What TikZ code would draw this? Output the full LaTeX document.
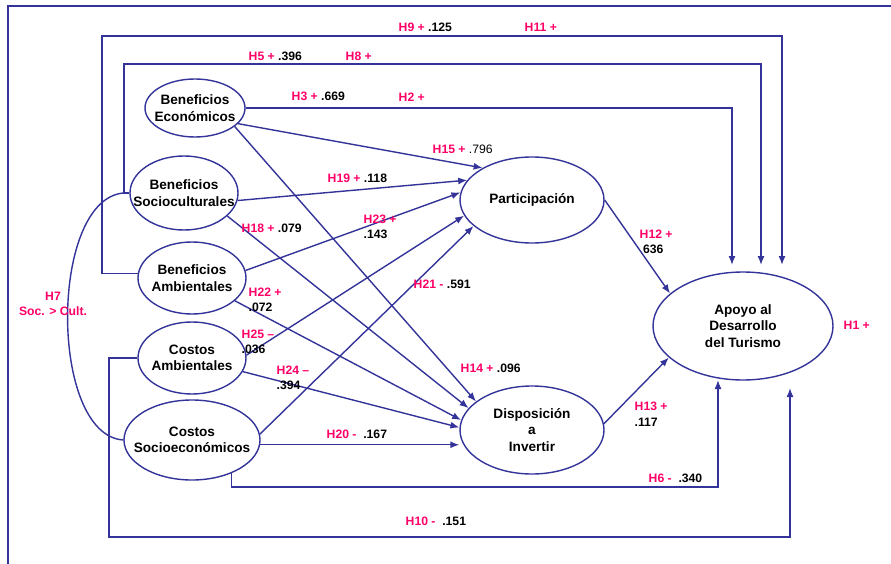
\documentclass[tikz,border=0pt]{standalone}
\usepackage{fontspec}
\setmainfont{Liberation Sans}
\usetikzlibrary{arrows.meta}
\usetikzlibrary{shapes.geometric}
\definecolor{pathblue}{RGB}{51,51,153}
\definecolor{hyppink}{RGB}{255,0,102}
\tikzset{>={Latex[length=9pt,width=7pt]}}
\tikzset{
  construct/.style={ellipse,draw=pathblue,inner xsep=-30pt,inner ysep=-15pt,align=center,
    font=\bfseries\fontsize{13.6}{16.5}\selectfont},
  hyp/.style={anchor=west,inner sep=0pt,align=left,font=\bfseries\fontsize{12.2}{15.5}\selectfont},
  link/.style={draw=pathblue,->},
}
\newcommand{\hy}[1]{\textcolor{hyppink}{#1}}

\begin{document}
\begin{tikzpicture}[x=1pt,y=-1pt,line width=1.4pt]
  \useasboundingbox (0,0) rectangle (891,564);

  % frame
  \draw[pathblue] (8,564) -- (8,6) -- (891,6);

  % antecedents
  \node[construct,minimum width=100pt,minimum height=58pt] (be) at (195,108) {Beneficios\\Económicos};
  \node[construct,minimum width=108pt,minimum height=74pt] (bs) at (184,193) {Beneficios\\Socioculturales};
  \node[construct,minimum width=108pt,minimum height=72pt] (ba) at (192,278) {Beneficios\\Ambientales};
  \node[construct,minimum width=108pt,minimum height=72pt] (ca) at (192,358) {Costos\\Ambientales};
  \node[construct,minimum width=136pt,minimum height=80pt] (cs) at (192,440) {Costos\\Socioeconómicos};

  % mediators
  \node[construct,minimum width=144pt,minimum height=86pt] (part) at (532,200) {Participación};
  \node[construct,minimum width=144pt,minimum height=88pt] (disp) at (532,430) {Disposición\\a\\Invertir};

  % outcome
  \node[construct,minimum width=180pt,minimum height=108pt] (apoyo) at (743,326) {Apoyo al\\Desarrollo\\del Turismo};

  % arrow ends above and below Apoyo
  \coordinate (in2) at (732,265);
  \coordinate (in8) at (761,265);
  \coordinate (in11) at (782,265);
  \coordinate (in6) at (718,380);
  \coordinate (in10) at (790,388);

  % direct paths to Apoyo
  \draw[link] (be.east) -| (in2);
  \draw[link] (bs.west) -| (124,64) -| (in8);
  \draw[link] (ba.175) -| (102,36) -| (in11);
  \draw[link] (ca.west) -| (109,537) -| (in10);
  \draw[link] (cs.-40) |- (718,487) -- (in6);

  % H7 Soc. > Cult.
  \draw[pathblue] ([xshift=-6pt]bs.west) .. controls (49,200) and (49,435) .. (cs.west);

  % -> Participacion
  \draw[link] (be.-20) -- (part.147);
  \draw[link] (bs.-8) -- (part.163);
  \draw[link] (ba.8) -- (part.174);
  \draw[link] (ca.3) -- (part.193);
  \draw[link] (cs.5) -- (part.204);

  % -> Disposicion
  \draw[link] (be.-25) -- (disp.153);
  \draw[link] (bs.-28) -- (disp.161);
  \draw[link] (ba.-28) -- (disp.172);
  \draw[link] (ca.-15) -- (disp.178);
  \draw[link] (cs.-4) -- (cs.-4 -| disp.west);

  % mediators -> Apoyo
  \draw[link] (part.east) -- (apoyo.156);
  \draw[link] (disp.5) -- (apoyo.203);

  % hypotheses
  \node[hyp] (h9) at (398,27) {\hy{H9 +} .125};
  \node[hyp] (h11) at (524,27) {\hy{H11 +}};
  \node[hyp] (h5) at (248,56) {\hy{H5 +} .396};
  \node[hyp] (h8) at (345,56) {\hy{H8 +}};
  \node[hyp] (h3) at (291,96) {\hy{H3 +} .669};
  \node[hyp] (h2) at (398,97) {\hy{H2 +}};
  \node[hyp] (h15) at (432,149) {\hy{H15 +} {\mdseries .796}};
  \node[hyp] (h19) at (327,178) {\hy{H19 +} .118};
  \node[hyp] (h23) at (363,227) {\hy{H23 +}\\.143};
  \node[hyp] (h18) at (241,228) {\hy{H18 +} .079};
  \node[hyp] (h22) at (248,300) {\hy{H22 +}\\.072};
  \node[hyp] (h25) at (241,342) {\hy{H25 –}\\.036};
  \node[hyp] (h24) at (276,378) {\hy{H24 –}\\.394};
  \node[hyp] (h21) at (413,284) {\hy{H21 -} .591};
  \node[hyp] (h20) at (326,434) {\hy{H20 -}\ \ .167};
  \node[hyp] (h14) at (460,368) {\hy{H14 +} .096};
  \node[hyp] (h12) at (639,242) {\hy{H12 +}\\\ 636};
  \node[hyp] (h13) at (634,414) {\hy{H13 +}\\.117};
  \node[hyp] (h6) at (648,478) {\hy{H6 -}\ \ .340};
  \node[hyp] (h10) at (405,521) {\hy{H10 -}\ \ .151};
  \node[hyp] (h1) at (843,325) {\hy{H1 +}};
  \node[hyp,anchor=center,align=center] (h7) at (53,304) {\hy{H7}\\\hy{Soc. > Cult.}};
\end{tikzpicture}
\end{document}
